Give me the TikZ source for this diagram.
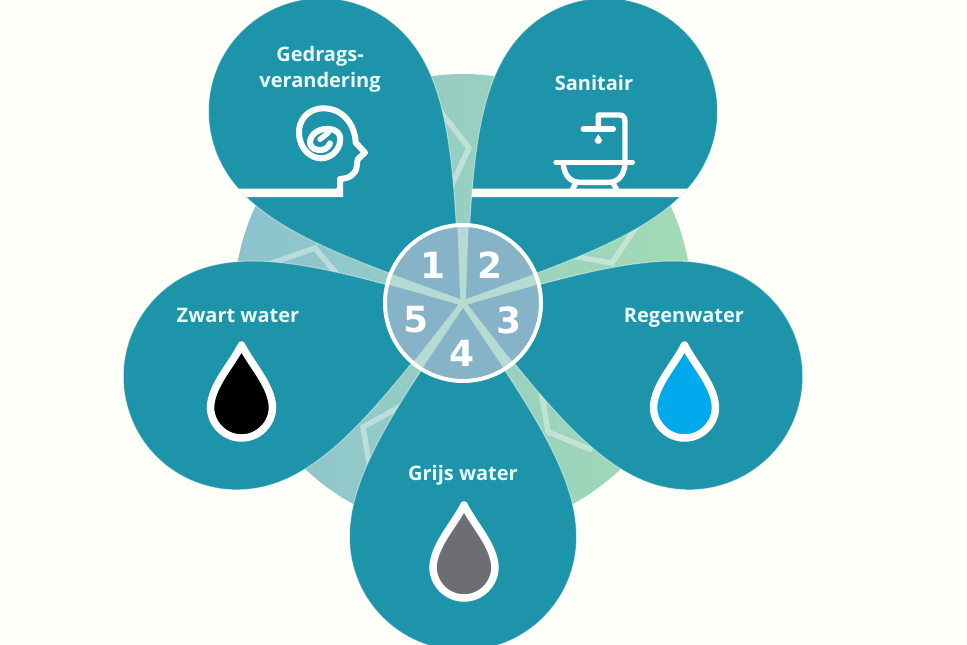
\documentclass[tikz,border=0pt]{standalone}
\usepackage{fontspec}
\newfontfamily\labelfont{Open Sans}
\newfontfamily\digitfont{DejaVu Sans}
\definecolor{pagebg}{HTML}{FEFFF8}
\definecolor{petalcol}{HTML}{1D94A9}
\definecolor{wheelcol}{HTML}{86B3C7}
\definecolor{gapcol}{HTML}{B5DBD3}
\definecolor{ringleft}{HTML}{8CC2CF}
\definecolor{ringright}{HTML}{A2DBB4}
\definecolor{txtcol}{HTML}{EAFCFC}
\definecolor{greydrop}{HTML}{6D6E72}
\definecolor{bluedrop}{HTML}{00A9EC}
\newcommand{\petalshape}{(0,5) .. controls (64,100) and (113.5,170) .. (113.5,234)
  .. controls (113.5,297) and (63,347.5) .. (0,347.5)
  .. controls (-63,347.5) and (-113.5,297) .. (-113.5,234)
  .. controls (-113.5,170) and (-64,100) .. (0,5) -- cycle}
\newcommand{\dropshape}{(0,-62) .. controls (10,-42) and (30,-22) .. (31,0)
  .. controls (31,17) and (17,31) .. (0,31)
  .. controls (-17,31) and (-31,17) .. (-31,0)
  .. controls (-30,-22) and (-10,-42) .. (0,-62) -- cycle}
\tikzset{
  petalfill/.style={fill=petalcol,draw=white,draw opacity=.5,line width=.7pt},
  chevron/.style={draw=white,draw opacity=.38,line width=4.1pt,line join=miter},
  iconline/.style={draw=white,line width=4pt,line cap=round,line join=round},
  headline/.style={draw=white,line width=4.5pt,line cap=round,line join=round},
  shelf/.style={fill=pagebg},
  waterdrop/.style={draw=white,line width=5.6pt,line join=round},
  caption/.style={text=txtcol,font=\labelfont\bfseries\fontsize{15}{19.2}\selectfont,align=center,inner sep=0pt},
  digitlabel/.style={text=white,font=\digitfont\bfseries\fontsize{27}{27}\selectfont,inner sep=0pt}
}
\begin{document}
\begin{tikzpicture}[x=.75pt,y=-.75pt]
\path[use as bounding box,clip] (0,0) rectangle (967,644);
\fill[pagebg] (0,0) rectangle (967,644);
% background disc
\coordinate (hub) at (463,303);
\shade[left color=ringleft,right color=ringright] (hub) circle[radius=229*.75pt];
% star fragments
\draw[chevron] (436,106) -- (469,148) -- (447,195);
\draw[chevron] (560,254) -- (612,263) -- (645,214);
\draw[chevron] (258,268) -- (315,248) -- (350,290);
\draw[chevron] (412,400) -- (363,427) -- (372,480);
\draw[chevron] (540,385) -- (548,432) -- (592,450);
% petals
\foreach \ang/\stretch in {0/1,72/1.011,143.6/1.011,216.4/1.011,288/1.011}{
  \begin{scope}[shift={(hub)},rotate=\ang,yscale=\stretch]
    \path[petalfill] \petalshape;
  \end{scope}
}
% shelves of the two upper petals
\begin{scope}
  \begin{scope}[shift={(hub)},rotate=216.4,yscale=1.011]
    \clip \petalshape;
    \begin{scope}[yscale=1/1.011,rotate=-216.4,shift={(-463,-303)}]
      \fill[shelf] (230,188.5) rectangle (343,197);
    \end{scope}
  \end{scope}
\end{scope}
\begin{scope}
  \begin{scope}[shift={(hub)},rotate=143.6,yscale=1.011]
    \clip \petalshape;
    \begin{scope}[yscale=1/1.011,rotate=-143.6,shift={(-463,-303)}]
      \fill[shelf] (460,188.5) rectangle (700,197);
    \end{scope}
  \end{scope}
\end{scope}
% wheel
\begin{scope}
  \clip (hub) circle[radius=78*.75pt];
  \fill[gapcol] (hub) circle[radius=80*.75pt];
  \foreach \ang in {0,72,144,216,288}{
    \begin{scope}[shift={(hub)},rotate=\ang]
      \fill[wheelcol] \petalshape;
    \end{scope}
  }
\end{scope}
\draw[white,line width=3pt] (hub) circle[radius=78*.75pt];
\node[digitlabel] (d1) at (433,265) {1};
\node[digitlabel] (d2) at (490,265) {2};
\node[digitlabel] (d3) at (509,320) {3};
\node[digitlabel] (d4) at (462,353) {4};
\node[digitlabel] (d5) at (416,320) {5};
% captions
\node[caption] (t1) at (320,69.5) {Gedrags-\\verandering};
\node[caption] (t2) at (594,82.5) {Sanitair};
\node[caption] (t3) at (684,318) {Regenwater};
\node[caption] (t4) at (463,475) {Grijs water};
\node[caption] (t5) at (238,315.5) {Zwart water};
% drops
\begin{scope}[shift={(241.5,407)}]
  \path[waterdrop,fill=black] \dropshape;
\end{scope}
\begin{scope}[shift={(684.5,407)}]
  \path[waterdrop,fill=bluedrop] \dropshape;
\end{scope}
\begin{scope}[shift={(464,567)}]
  \path[waterdrop,fill=greydrop] \dropshape;
\end{scope}
% head icon
\begin{scope}[shift={(285,100)},scale=1/3]
  \draw[headline] (150,277) -- (165,270) -- (165,237) .. controls (195,235) and (212,222) .. (215,200)
    -- (218,178) -- (240,158) -- (212,128) .. controls (210,75) and (175,25) .. (115,25)
    .. controls (65,25) and (40,65) .. (42,100) .. controls (44,150) and (80,175) .. (108,175)
    .. controls (145,175) and (170,140) .. (165,110) .. controls (160,85) and (120,80) .. (95,95)
    .. controls (70,110) and (65,145) .. (100,150) .. controls (115,152) and (130,145) .. (135,130);
  \draw[iconline] (105,118) -- (130,98);
\end{scope}
% bath icon
\begin{scope}[shift={(545,105)},scale=1/3]
  \draw[iconline] (33,172) -- (262,172);
  \draw[iconline] (55,178) .. controls (58,210) and (75,232) .. (105,232) -- (190,232) .. controls (220,232) and (237,210) .. (240,178);
  \draw[iconline] (92,235) -- (80,258);
  \draw[iconline] (205,235) -- (217,258);
  \draw[iconline] (240,165) -- (240,50) .. controls (240,36) and (235,30) .. (222,30) -- (160,30) -- (160,72);
  \draw[iconline] (115,72) -- (205,72);
  \fill[white] (160,88) .. controls (163,96) and (171,100) .. (171,106) .. controls (171,120) and (149,120) .. (149,106) .. controls (149,100) and (157,96) .. (160,88) -- cycle;
\end{scope}
\end{tikzpicture}
\end{document}
